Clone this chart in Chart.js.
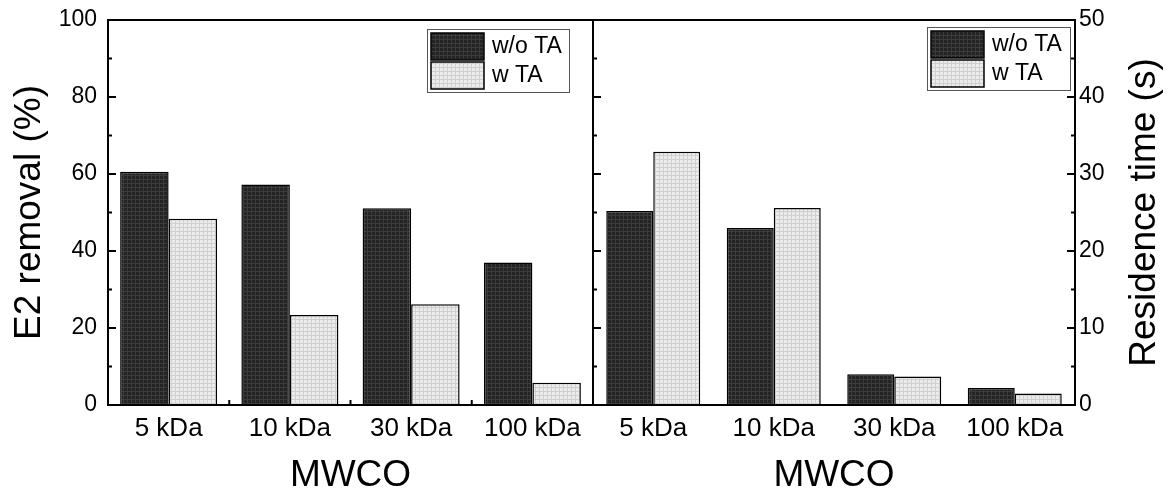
<!DOCTYPE html>
<html>
<head>
<meta charset="utf-8">
<script src="https://cdn.jsdelivr.net/npm/chart.js@4.4.0/dist/chart.umd.min.js"></script>
<style>
    body { margin: 0; background: #fff; }
    #wrap { position: relative; width: 1170px; height: 495px; }
    canvas { position: absolute; left: 0; top: 0; }
</style>
</head>
<body>
<div id="wrap">
    <canvas id="removalChart" width="1170" height="495"></canvas>
    <canvas id="residenceChart" width="1170" height="495"></canvas>
</div>
<script>
// ---------- DATA ----------
const categories = ["5 kDa", "10 kDa", "30 kDa", "100 kDa"];
const seriesNames = ["w/o TA", "w TA"];
const removalWithoutTA = [60.6, 57.3, 51.1, 37.0];
const removalWithTA = [48.4, 23.4, 26.2, 5.8];
const residenceWithoutTA = [25.2, 23.0, 4.0, 2.2];
const residenceWithTA = [32.9, 25.6, 3.7, 1.5];
const removalTicks = [0, 20, 40, 60, 80, 100];
const residenceTicks = [0, 10, 20, 30, 40, 50];

const FONT = "'Liberation Sans', Arial, sans-serif";

// ---------- PATTERNS ----------
function makePattern(base, line) {
    const c = document.createElement("canvas");
    c.width = 4;
    c.height = 4;
    const g = c.getContext("2d");
    g.fillStyle = base;
    g.fillRect(0, 0, 4, 4);
    g.fillStyle = line;
    g.fillRect(0, 3, 4, 1);
    g.fillRect(3, 0, 1, 4);
    return g.createPattern(c, "repeat");
}

const darkFill = makePattern("#242424", "#3c3c3c");
const lightFill = makePattern("#ebebeb", "#d0d0d0");

// ---------- FRAME, INWARD TICKS, LEGEND ----------
const framePlugin = {
    id: "frame",
    afterDraw(chart, args, opts) {
        const { ctx, chartArea: a } = chart;
        const y = chart.scales.y;
        const x = chart.scales.x;

        ctx.save();
        ctx.strokeStyle = "#000";
        ctx.lineWidth = 2;
        ctx.strokeRect(a.left, a.top, a.right - a.left, a.bottom - a.top);

        // y ticks, major + minor
        const vals = y.ticks.map(t => t.value);
        const half = (vals[1] - vals[0]) / 2;
        for (let i = 0; i < vals.length; i++) {
            const list = [[vals[i], 8]];
            if (i < vals.length - 1) list.push([vals[i] + half, 4]);
            list.forEach(([v, len]) => {
                const py = y.getPixelForValue(v);
                ctx.beginPath();
                if (opts.leftTicks) {
                    ctx.moveTo(a.left, py);
                    ctx.lineTo(a.left + len, py);
                }
                if (opts.rightTicks) {
                    ctx.moveTo(a.right, py);
                    ctx.lineTo(a.right - len, py);
                }
                ctx.stroke();
            });
        }

        // x ticks between categories
        if (opts.bottomTicks) {
            for (let i = 0; i < categories.length; i++) {
                const px = i < categories.length - 1
                    ? (x.getPixelForTick(i) + x.getPixelForTick(i + 1)) / 2
                    : a.right;
                ctx.beginPath();
                ctx.moveTo(px, a.bottom);
                ctx.lineTo(px, a.bottom - 5);
                ctx.stroke();
            }
        }

        // legend box
        const lg = opts.legend;
        const bx = a.right - lg.right - lg.width;
        const by = a.top + lg.top;
        ctx.lineWidth = 1;
        ctx.strokeStyle = "#555";
        ctx.fillStyle = "#fff";
        ctx.fillRect(bx, by, lg.width, lg.height);
        ctx.strokeRect(bx + 0.5, by + 0.5, lg.width, lg.height);

        ctx.font = "23px " + FONT;
        ctx.textBaseline = "middle";
        ctx.textAlign = "left";
        chart.data.datasets.forEach((ds, i) => {
            const sy = by + 4 + i * 29;
            ctx.fillStyle = ds.backgroundColor;
            ctx.fillRect(bx + 4, sy, 53, 27);
            ctx.strokeStyle = "#000";
            ctx.lineWidth = 1.5;
            ctx.strokeRect(bx + 4, sy, 53, 27);
            ctx.fillStyle = "#000";
            ctx.fillText(ds.label, bx + 65, sy + 14);
        });

        // right title, reading bottom to top
        if (opts.rightTitle) {
            ctx.font = "37px " + FONT;
            ctx.textAlign = "center";
            ctx.translate(a.right + 70, (a.top + a.bottom) / 2);
            ctx.rotate(-Math.PI / 2);
            ctx.fillText(opts.rightTitle, 0, 0);
        }
        ctx.restore();
    }
};

// ---------- CHART ----------
function createPanel(id, values, yTicks, side) {
    const ctx = document.getElementById(id).getContext("2d");
    const isLeft = side === "left";

    return new Chart(ctx, {
        type: "bar",
        data: {
            labels: categories,
            datasets: [
                {
                    label: seriesNames[0],
                    data: values[0],
                    backgroundColor: darkFill,
                    borderColor: "#000",
                    borderWidth: 1.5
                },
                {
                    label: seriesNames[1],
                    data: values[1],
                    backgroundColor: lightFill,
                    borderColor: "#000",
                    borderWidth: 1.5
                }
            ]
        },
        options: {
            responsive: false,
            animation: false,
            datasets: {
                bar: {
                    barPercentage: 1,
                    categoryPercentage: isLeft ? 0.8 : 0.78
                }
            },
            layout: {
                padding: isLeft
                    ? { left: 0, right: 577, top: 20, bottom: 0 }
                    : { left: 593, right: 0, top: 20, bottom: 0 }
            },
            plugins: {
                legend: { display: false },
                tooltip: { enabled: false },
                frame: {
                    leftTicks: true,
                    rightTicks: !isLeft,
                    bottomTicks: isLeft,
                    rightTitle: isLeft ? null : "Residence time (s)",
                    legend: isLeft
                        ? { right: 24, top: 9, width: 142, height: 63 }
                        : { right: 5, top: 7, width: 143, height: 63 }
                }
            },
            scales: {
                x: {
                    grid: { display: false, drawTicks: false },
                    border: { display: false },
                    ticks: {
                        color: "#000",
                        padding: 8,
                        maxRotation: 0,
                        font: { size: 26, family: FONT }
                    },
                    title: {
                        display: true,
                        text: "MWCO",
                        color: "#000",
                        padding: { top: 0, bottom: 1 },
                        font: { size: 37, family: FONT, lineHeight: 1 }
                    },
                    afterFit: s => { s.height = 90; }
                },
                y: {
                    position: isLeft ? "left" : "right",
                    min: yTicks[0],
                    max: yTicks[yTicks.length - 1],
                    grid: { display: false, drawTicks: false },
                    border: { display: false },
                    afterBuildTicks: s => { s.ticks = yTicks.map(v => ({ value: v })); },
                    ticks: {
                        color: "#000",
                        padding: isLeft ? 11 : 4,
                        font: { size: 23, family: FONT, lineHeight: 0.7 }
                    },
                    title: {
                        display: isLeft,
                        text: "E2 removal (%)",
                        color: "#000",
                        padding: { top: 11, bottom: 0 },
                        font: { size: 37, family: FONT, lineHeight: 1 }
                    },
                    afterFit: s => { s.width = isLeft ? 108 : 95; }
                }
            }
        },
        plugins: [framePlugin]
    });
}

createPanel("removalChart", [removalWithoutTA, removalWithTA], removalTicks, "left");
createPanel("residenceChart", [residenceWithoutTA, residenceWithTA], residenceTicks, "right");
</script>
</body>
</html>
